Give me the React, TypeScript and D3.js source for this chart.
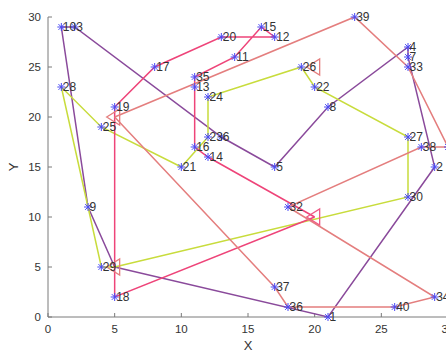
import React from "react";
import * as d3 from "d3";

// customer coordinates, index 0 = customer 1
const pointX = [21, 29, 2, 27, 17, 13, 27, 21, 3, 1, 14, 17, 11, 12, 16, 11, 8, 5, 5, 13, 10, 20, 12, 12, 4, 19, 27, 1, 4, 27, 30, 18, 27, 29, 11, 18, 17, 28, 23, 26];
const pointY = [0, 15, 29, 27, 15, 18, 26, 21, 11, 29, 26, 28, 23, 16, 29, 17, 25, 2, 21, 28, 15, 23, 18, 22, 19, 25, 18, 23, 5, 12, 17, 11, 25, 2, 24, 1, 3, 17, 30, 1];

// depots (drawn as "<" markers)
const depotX = [5, 5, 20, 20];
const depotY = [20, 5, 10, 25];

// routes: customer ids, each starts and ends at its depot
const routePurple = [9, 10, 3, 6, 5, 8, 4, 7, 2, 1];
const routeYellow = [29, 28, 25, 21, 23, 24, 26, 22, 27, 30];
const routePink = [18, 19, 17, 20, 12, 15, 11, 35, 13, 16, 14];
const routeSalmon = [39, 33, 31, 38, 32, 34, 40, 36, 37];
const routeDepot = [1, 1, 2, 0];

const xTicks = [0, 5, 10, 15, 20, 25, 30];
const yTicks = [0, 5, 10, 15, 20, 25, 30];

const routeColors = ["#8a4a9b", "#c8dc3c", "#ee4479", "#e47e7e"];
const depotColors = ["#e47e7e", "#e47e7e", "#ee5a85", "#e47e7e"];

const App: React.FC = () => {
  const width = 446;
  const height = 353;

  const xScale = d3.scaleLinear().domain([0, 30]).range([48, 448]);
  const yScale = d3.scaleLinear().domain([0, 30]).range([317, 17]);

  const routes = [routePurple, routeYellow, routePink, routeSalmon];

  const line = d3
    .line<[number, number]>()
    .x((d) => xScale(d[0]))
    .y((d) => yScale(d[1]));

  const routePaths = routes.map((r, i) => {
    const dep = routeDepot[i];
    const pts: [number, number][] = [[depotX[dep], depotY[dep]]];
    r.forEach((id) => pts.push([pointX[id - 1], pointY[id - 1]]));
    pts.push([depotX[dep], depotY[dep]]);
    return line(pts) || "";
  });

  const axisColor = "#7a7a7a";
  const textColor = "#333";

  return (
    <svg
      width={width}
      height={height}
      style={{ position: "absolute", left: 0, top: 0, background: "#fff" }}
      fontFamily="'Liberation Sans', Arial, sans-serif"
    >
      {/* axes */}
      <line x1={xScale(0)} x2={xScale(0)} y1={yScale(0)} y2={yScale(30)} stroke={axisColor} strokeWidth={1} />
      <line x1={xScale(0)} x2={xScale(30)} y1={yScale(0)} y2={yScale(0)} stroke={axisColor} strokeWidth={1} />
      {xTicks.map((t) => (
        <g key={"x" + t}>
          <line x1={xScale(t)} x2={xScale(t)} y1={yScale(0)} y2={yScale(0) - 4} stroke={axisColor} />
          <text x={xScale(t)} y={yScale(0) + 16} textAnchor="middle" fontSize={11.5} fill={textColor}>
            {t}
          </text>
        </g>
      ))}
      {yTicks.map((t) => (
        <g key={"y" + t}>
          <line x1={xScale(0)} x2={xScale(0) + 4} y1={yScale(t)} y2={yScale(t)} stroke={axisColor} />
          <text x={xScale(0) - 7} y={yScale(t)} dy="0.35em" textAnchor="end" fontSize={11.5} fill={textColor}>
            {t}
          </text>
        </g>
      ))}
      <text x={xScale(15)} y={350} textAnchor="middle" fontSize={13} fill={textColor}>
        X
      </text>
      <text transform={`translate(18, ${yScale(15)}) rotate(-90)`} textAnchor="middle" fontSize={13} fill={textColor}>
        Y
      </text>

      {/* routes */}
      {routePaths.map((d, i) => (
        <path key={"r" + i} d={d} fill="none" stroke={routeColors[i]} strokeWidth={1.5} />
      ))}

      {/* depots */}
      {depotX.map((dx, i) => {
        const cx = xScale(dx);
        const cy = yScale(depotY[i]);
        return (
          <path
            key={"d" + i}
            d={`M${cx - 8},${cy} L${cx + 5},${cy - 8} L${cx + 5},${cy + 8} Z`}
            fill="none"
            stroke={depotColors[i]}
            strokeWidth={1.3}
          />
        );
      })}

      {/* customers */}
      {pointX.map((px, i) => {
        const cx = xScale(px);
        const cy = yScale(pointY[i]);
        const r = 4;
        const q = r * 0.72;
        return (
          <g key={"p" + i}>
            <g stroke="#4b4bf5" strokeWidth={1}>
              <line x1={cx - r} x2={cx + r} y1={cy} y2={cy} />
              <line x1={cx} x2={cx} y1={cy - r} y2={cy + r} />
              <line x1={cx - q} x2={cx + q} y1={cy - q} y2={cy + q} />
              <line x1={cx - q} x2={cx + q} y1={cy + q} y2={cy - q} />
            </g>
            <text x={cx + 1.5} y={cy} dy="0.36em" fontSize={12} fill={textColor}>
              {i + 1}
            </text>
          </g>
        );
      })}
    </svg>
  );
};

export default App;
